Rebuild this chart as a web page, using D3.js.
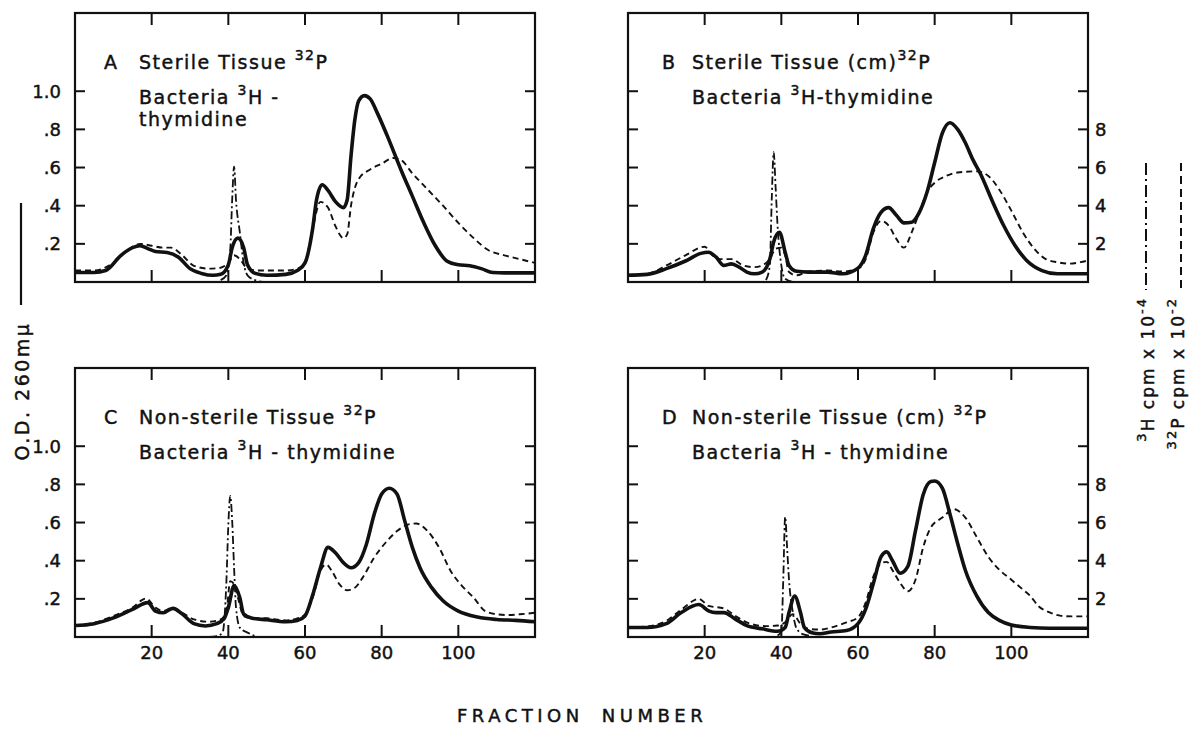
<!DOCTYPE html>
<html>
<head>
<meta charset="utf-8">
<script src="https://cdn.jsdelivr.net/npm/d3@7/dist/d3.min.js"></script>
<style>
  body { margin: 0; background: #fff; }
  svg { display: block; font-family: "DejaVu Sans", sans-serif; }
  /* the original lettering is a bit heavier than the font */
  text { stroke: #111; stroke-width: 0.45px; }
</style>
</head>
<body>
<svg id="chart" width="1193" height="736"></svg>
<script>
// axis ticks
const xTicks = [20, 40, 60, 80, 100];
const odTicks = [0.2, 0.4, 0.6, 0.8, 1.0];
const odLabels = [".2", ".4", ".6", ".8", "1.0"];
const cpmLabels = ["2", "4", "6", "8", ""];

// panel texts
const panelLetters = ["A", "B", "C", "D"];
const tissueText = ["Sterile Tissue ", "Sterile Tissue (cm)", "Non-sterile Tissue  ", "Non-sterile Tissue (cm) "];

// A : [fraction, value]  (OD 260 / 32P cpm x 10^-2 / 3H cpm x 10^-4)
const odA = [[0,.05],[5,.05],[8,.06],[12,.14],[15,.18],[17,.19],[19,.175],[21,.16],[24,.155],[27,.13],[30,.07],[33,.045],[36,.035],[38,.04],[40,.09],[41,.18],[42.5,.23],[44,.18],[45,.09],[47,.045],[50,.035],[55,.04],[58,.06],[60,.1],[62,.28],[63,.43],[64.5,.51],[66,.48],[68,.42],[70,.39],[71,.43],[72,.66],[73,.85],[74,.95],[75.5,.977],[77,.96],[79,.88],[82,.74],[85,.59],[88,.45],[91,.31],[94,.19],[97,.11],[100,.09],[103,.085],[106,.07],[109,.05],[112,.048],[120,.048]];
const p32A = [[0,.6],[5,.6],[10,1.0],[14,1.7],[17,2.0],[20,1.9],[23,1.8],[25,1.8],[28,1.4],[31,.85],[35,.7],[38,.75],[40,1.0],[41.5,1.4],[43,1.2],[45,.7],[48,.6],[55,.6],[58,.7],[60,1.0],[62,2.8],[64,4.2],[66,3.9],[68,2.9],[70,2.3],[71,2.5],[72,4.0],[74,5.4],[77,5.9],[80,6.2],[83,6.5],[85,6.4],[88,5.7],[92,4.85],[96,4.0],[100,3.1],[104,2.3],[108,1.65],[112,1.4],[116,1.2],[120,1.0]];
const h3A = [[38,.1],[39.5,.35],[40.5,1.7],[41,4.3],[41.5,6.05],[42,4.3],[43,2.6],[44,1.0],[45,.35],[47,.1],[49,0]];

// B
const odB = [[0,.035],[5,.04],[10,.07],[15,.11],[19,.15],[21,.156],[23,.13],[25,.087],[27,.095],[29,.078],[31,.052],[33,.043],[35,.052],[37,.12],[38,.21],[39.5,.26],[41,.156],[42,.087],[44,.056],[47,.052],[52,.052],[56,.043],[60,.073],[62,.14],[64,.28],[66,.365],[68,.39],[70,.35],[72,.31],[74,.313],[76,.365],[78,.47],[80,.626],[82,.78],[84,.835],[86,.8],[88,.73],[90,.64],[92,.565],[95,.426],[98,.296],[101,.19],[104,.113],[108,.06],[112,.043],[120,.043]];
const p32B = [[0,.38],[5,.43],[10,.87],[15,1.4],[20,1.85],[22,1.4],[24,1.2],[27,1.2],[30,.87],[33,.78],[35,.87],[37,1.2],[38.5,1.74],[40,1.8],[41,1.4],[42,.52],[44,.35],[47,.55],[52,.6],[56,.55],[60,.7],[62,1.2],[64,2.6],[66,3.2],[68,2.96],[70,2.26],[72,1.8],[74,2.6],[76,3.65],[78,4.7],[80,5.2],[83,5.56],[86,5.74],[91,5.8],[94,5.56],[97,4.8],[100,3.74],[103,2.6],[106,1.74],[109,1.2],[112,1.04],[115,.96],[118,1.04],[120,1.13]];
const h3B = [[36,.1],[37,.87],[37.5,4.35],[38,6.8],[38.5,5.0],[39,3.0],[40,.87],[41,.17],[43,0]];

// C
const odC = [[0,.06],[5,.07],[10,.1],[15,.145],[19,.18],[21,.136],[23,.127],[25.5,.15],[28,.12],[31,.07],[34,.058],[37,.07],[39,.1],[40,.154],[41.5,.27],[43,.206],[44,.12],[46,.1],[50,.09],[55,.08],[58,.087],[60,.11],[62,.22],[64,.36],[66,.47],[68,.44],[70,.39],[72,.363],[74,.39],[76,.485],[78,.64],[80,.75],[82,.78],[84,.75],[86,.61],[88,.47],[90,.363],[93,.26],[96,.19],[100,.136],[105,.105],[110,.092],[115,.087],[120,.08]];
const p32C = [[0,.63],[5,.75],[10,1.1],[15,1.54],[18.5,2.02],[21,1.54],[23,1.36],[25.5,1.54],[28,1.27],[31,.92],[35,.8],[38,.92],[39.5,1.36],[40.5,2.93],[41.5,2.76],[42.5,2.06],[44,1.1],[46,1.0],[50,.98],[55,.87],[58,.98],[60,1.19],[62,2.06],[64,3.46],[65.5,3.8],[67,3.46],[69,2.76],[71,2.45],[73,2.58],[75,3.1],[78,4.15],[81,4.94],[84,5.55],[87,5.9],[89,5.95],[92,5.55],[95,4.68],[98,3.46],[101,2.67],[104,2.06],[107,1.36],[110,1.19],[113,1.15],[116,1.19],[120,1.27]];
const h3C = [[35,0],[37,.05],[38.5,.23],[39.5,2.93],[40,5.9],[40.5,7.4],[41,6.1],[41.5,3.63],[42,1.54],[43,.49],[45,.23],[47,.05]];

// D
const odD = [[0,.05],[5,.05],[10,.07],[14,.13],[18.5,.17],[21,.137],[23,.128],[25,.128],[28,.094],[31,.06],[35,.043],[39,.03],[41,.05],[42,.128],[43.5,.214],[45,.128],[46,.05],[48,.022],[50,.017],[53,.026],[57,.034],[60,.07],[62,.146],[64,.28],[66,.42],[67.5,.446],[69,.4],[71,.334],[73,.37],[75,.557],[77,.746],[79,.815],[80,.818],[82,.78],[84,.643],[86,.49],[88,.35],[91,.214],[94,.128],[97,.086],[100,.063],[105,.05],[110,.046],[120,.046]];
const p32D = [[0,.5],[5,.55],[10,.85],[14,1.45],[18.5,2.0],[21,1.63],[25,1.5],[28,1.1],[32,.69],[36,.57],[39,.6],[41,.77],[43,1.2],[45,.69],[47,.43],[50,.39],[53,.5],[57,.77],[60,1.03],[62,1.8],[64,3.17],[66,3.86],[67.5,3.94],[69,3.5],[71,2.83],[73,2.4],[75,3.0],[77,4.7],[79,5.74],[82,6.26],[85,6.7],[88,6.26],[91,5.23],[94,4.2],[97,3.5],[100,3.0],[103,2.49],[105,2.14],[107,1.63],[110,1.29],[113,1.11],[116,1.08],[120,1.08]];
const h3D = [[39,.08],[40,.26],[40.5,3.0],[41,6.3],[41.5,4.7],[42,3.0],[43,1.29],[44,.43],[46,.12],[48,.05]];

const odSeries = [odA, odB, odC, odD];
const p32Series = [p32A, p32B, p32C, p32D];
const h3Series = [h3A, h3B, h3C, h3D];

// layout
const pw = 460, ph = 269;
const origins = [[75, 13], [628, 13], [75, 368], [628, 368]];
const tickLen = 10;
const ink = "#111";

const svg = d3.select("#chart");

const x = d3.scaleLinear().domain([0, 120]).range([0, pw]);
const y = d3.scaleLinear().domain([0, 1.41]).range([ph, 0]);
const yc = d3.scaleLinear().domain([0, 14.1]).range([ph, 0]);

const lineOD = d3.line().x(d => x(d[0])).y(d => y(d[1])).curve(d3.curveMonotoneX);
const lineCpm = d3.line().x(d => x(d[0])).y(d => yc(d[1])).curve(d3.curveMonotoneX);

origins.forEach((o, i) => {
  const g = svg.append("g").attr("transform", `translate(${o[0]},${o[1]})`);
  const isLeft = i % 2 === 0;
  const isBottom = i >= 2;

  // frame
  g.append("rect").attr("width", pw).attr("height", ph)
    .attr("fill", "none").attr("stroke", ink).attr("stroke-width", 2.2);

  // inward ticks on all four sides
  xTicks.forEach(t => {
    g.append("line").attr("x1", x(t)).attr("x2", x(t)).attr("y1", 0).attr("y2", tickLen + 2)
      .attr("stroke", ink).attr("stroke-width", 2);
    g.append("line").attr("x1", x(t)).attr("x2", x(t)).attr("y1", ph).attr("y2", ph - tickLen - 2)
      .attr("stroke", ink).attr("stroke-width", 2);
  });
  odTicks.forEach(t => {
    g.append("line").attr("x1", 0).attr("x2", tickLen).attr("y1", y(t)).attr("y2", y(t))
      .attr("stroke", ink).attr("stroke-width", 2);
    g.append("line").attr("x1", pw).attr("x2", pw - tickLen).attr("y1", y(t)).attr("y2", y(t))
      .attr("stroke", ink).attr("stroke-width", 2);
  });

  // tick labels
  if (isLeft) {
    odTicks.forEach((t, k) => {
      g.append("text").attr("x", -14).attr("y", y(t)).attr("dy", "0.36em")
        .attr("text-anchor", "end").attr("font-size", 18).attr("fill", ink)
        .text(odLabels[k]);
    });
  } else {
    odTicks.forEach((t, k) => {
      g.append("text").attr("x", pw + 7).attr("y", y(t)).attr("dy", "0.36em")
        .attr("text-anchor", "start").attr("font-size", 18).attr("fill", ink)
        .text(cpmLabels[k]);
    });
  }
  if (isBottom) {
    xTicks.forEach(t => {
      g.append("text").attr("x", x(t)).attr("y", ph + 22)
        .attr("text-anchor", "middle").attr("font-size", 18).attr("fill", ink)
        .text(t);
    });
  }

  // curves
  g.append("path").datum(p32Series[i]).attr("d", lineCpm)
    .attr("fill", "none").attr("stroke", ink).attr("stroke-width", 1.9)
    .attr("stroke-dasharray", "6,4");
  g.append("path").datum(h3Series[i]).attr("d", lineCpm)
    .attr("fill", "none").attr("stroke", ink).attr("stroke-width", 1.8)
    .attr("stroke-dasharray", "8,3,2,3");
  g.append("path").datum(odSeries[i]).attr("d", lineOD)
    .attr("fill", "none").attr("stroke", ink).attr("stroke-width", 3.6)
    .attr("stroke-linejoin", "round");

  // panel title
  const lx = isLeft ? 29 : 34;
  g.append("text").attr("x", lx).attr("y", 56).attr("font-size", 19).attr("fill", ink)
    .text(panelLetters[i]);
  const t1 = g.append("text").attr("x", 64).attr("y", 56).attr("font-size", 19)
    .attr("letter-spacing", 1.5).attr("fill", ink);
  t1.append("tspan").text(tissueText[i]);
  t1.append("tspan").attr("font-size", 14).attr("dy", -9).text("32");
  t1.append("tspan").attr("dy", 9).text("P");

  const t2 = g.append("text").attr("x", 64).attr("y", 91).attr("font-size", 19)
    .attr("letter-spacing", 1.5).attr("fill", ink);
  t2.append("tspan").text("Bacteria ");
  t2.append("tspan").attr("font-size", 14).attr("dy", -9).text("3");
  if (i === 0) {
    t2.append("tspan").attr("dy", 9).text("H -");
    g.append("text").attr("x", 64).attr("y", 113).attr("font-size", 19)
      .attr("letter-spacing", 1.5).attr("fill", ink).text("thymidine");
  } else {
    t2.append("tspan").attr("dy", 9).text(i === 1 ? "H-thymidine" : "H - thymidine");
  }
});

// left axis title
svg.append("line").attr("x1", 21).attr("x2", 21).attr("y1", 203).attr("y2", 305)
  .attr("stroke", ink).attr("stroke-width", 2.2);
svg.append("text").attr("transform", "translate(29,391) rotate(-90)")
  .attr("text-anchor", "middle").attr("font-size", 19).attr("letter-spacing", 2.5)
  .attr("fill", ink).text("O.D. 260mμ");

// right axis titles
function cpmTitle(cx, iso, isoNum, expo) {
  const t = svg.append("text").attr("transform", `translate(${cx},297) rotate(-90)`)
    .attr("text-anchor", "end").attr("font-size", 17).attr("letter-spacing", 2)
    .attr("fill", ink);
  t.append("tspan").attr("font-size", 13).attr("dy", -8).text(isoNum);
  t.append("tspan").attr("dy", 8).text(iso + " cpm x 10");
  t.append("tspan").attr("font-size", 13).attr("dy", -8).text(expo);
}
cpmTitle(1154, "H", "3", "-4");
cpmTitle(1184, "P", "32", "-2");
svg.append("line").attr("x1", 1146).attr("x2", 1146).attr("y1", 163).attr("y2", 290)
  .attr("stroke", ink).attr("stroke-width", 2).attr("stroke-dasharray", "12,4,2,4");
svg.append("line").attr("x1", 1181).attr("x2", 1181).attr("y1", 163).attr("y2", 292)
  .attr("stroke", ink).attr("stroke-width", 2).attr("stroke-dasharray", "8,5");

// x axis title
svg.append("text").attr("x", 457).attr("y", 722).attr("font-size", 18)
  .attr("letter-spacing", 4.5).attr("word-spacing", 8).attr("fill", ink)
  .text("FRACTION NUMBER");
</script>
</body>
</html>
